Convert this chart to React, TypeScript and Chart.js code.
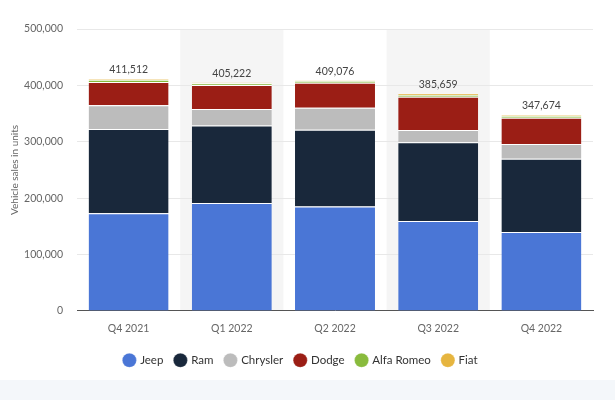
import React, { useEffect, useRef } from "react";
import { Chart, registerables } from "chart.js";

Chart.register(...registerables);

const quarters = ["Q4 2021", "Q1 2022", "Q2 2022", "Q3 2022", "Q4 2022"];
const jeep = [173000, 191500, 185000, 159600, 140000];
const ram = [149500, 137500, 136500, 139400, 130000];
const chrysler = [42300, 29000, 39000, 22000, 26000];
const dodge = [41000, 42500, 44000, 59000, 46700];
const alfaRomeo = [4000, 3200, 3500, 3000, 3500];
const fiat = [1712, 1522, 1076, 2659, 1474];

const seriesNames = ["Jeep", "Ram", "Chrysler", "Dodge", "Alfa Romeo", "Fiat"];
const seriesValues = [jeep, ram, chrysler, dodge, alfaRomeo, fiat];
const seriesColors = ["#4a76d6", "#19283b", "#bcbcbc", "#9b1e15", "#89bb3d", "#e6b53f"];

const FONT = "Lato, 'Open Sans', sans-serif";

const shadePlugin = {
  id: "columnShade",
  beforeDraw(chart: any) {
    const { ctx, chartArea, scales } = chart;
    const x = scales.x;
    const n = quarters.length;
    const w = (chartArea.right - chartArea.left) / n;
    ctx.save();
    ctx.fillStyle = "#f5f5f5";
    for (let i = 1; i < n; i += 2) {
      const cx = x.getPixelForValue(i);
      ctx.fillRect(cx - w / 2, chartArea.top, w, chartArea.bottom - chartArea.top);
    }
    ctx.restore();
  },
};

const legendShiftPlugin = {
  id: "legendShift",
  afterLayout(chart: any) {
    const lg = chart.legend;
    if (lg) {
      lg.top += 5;
      lg.bottom += 5;
    }
  },
};

const totalsPlugin = {
  id: "totals",
  afterDatasetsDraw(chart: any) {
    const { ctx, scales } = chart;
    ctx.save();
    ctx.font = `10.5px ${FONT}`;
    ctx.fillStyle = "#444";
    ctx.textAlign = "center";
    ctx.textBaseline = "middle";
    quarters.forEach((_, i) => {
      const total = seriesValues.reduce((s, arr) => s + arr[i], 0);
      const px = scales.x.getPixelForValue(i);
      const py = scales.y.getPixelForValue(total);
      ctx.fillText(total.toLocaleString("en-US"), px, py - 9);
    });
    ctx.restore();
  },
};

export default function App() {
  const ref = useRef<HTMLCanvasElement>(null);

  useEffect(() => {
    if (!ref.current) return;
    const chart = new Chart(ref.current, {
      type: "bar",
      data: {
        labels: quarters,
        datasets: seriesNames.map((name, k) => ({
          label: name,
          data: seriesValues[k],
          backgroundColor: seriesColors[k],
          borderColor: "#ffffff",
          borderWidth: { top: 1, left: 0, right: 0, bottom: 0 },
          borderSkipped: false,
          categoryPercentage: 1,
          barPercentage: 0.775,
        })),
      },
      options: {
        responsive: false,
        animation: false,
        devicePixelRatio: 1,
        layout: { padding: { top: 29, right: 22, left: 9, bottom: 9 } },
        plugins: {
          legend: {
            position: "bottom",
            labels: {
              usePointStyle: true,
              pointStyle: "circle",
              boxWidth: 10,
              boxHeight: 10,
              padding: 12,
              color: "#333",
              font: { family: FONT, size: 11.5 },
            },
          },
          tooltip: { enabled: false },
        },
        scales: {
          x: {
            stacked: true,
            offset: true,
            grid: { display: false },
            border: { display: true, color: "#555", width: 1 },
            ticks: { color: "#666", font: { family: FONT, size: 10.5 }, padding: 3 },
          },
          y: {
            stacked: true,
            min: 0,
            max: 500000,
            afterFit: (scale: any) => {
              scale.width = 68;
            },
            ticks: {
              stepSize: 100000,
              color: "#666",
              font: { family: FONT, size: 10.5 },
              padding: 14,
              callback: (v: any) => Number(v).toLocaleString("en-US"),
            },
            grid: { color: "#e8e8e8", drawTicks: false },
            border: { display: false },
            title: {
              display: true,
              text: "Vehicle sales in units",
              color: "#666",
              font: { family: FONT, size: 10 },
              padding: { top: 0, bottom: 0 },
            },
          },
        },
      },
      plugins: [shadePlugin, legendShiftPlugin, totalsPlugin],
    });
    return () => chart.destroy();
  }, []);

  return (
    <div style={{ position: "absolute", left: 0, top: 0, width: 615, height: 400, background: "#fff" }}>
      <canvas ref={ref} width={615} height={380} style={{ display: "block" }} />
      <div style={{ position: "absolute", left: 0, top: 380, width: 615, height: 20, background: "#f4f7fa" }} />
    </div>
  );
}
